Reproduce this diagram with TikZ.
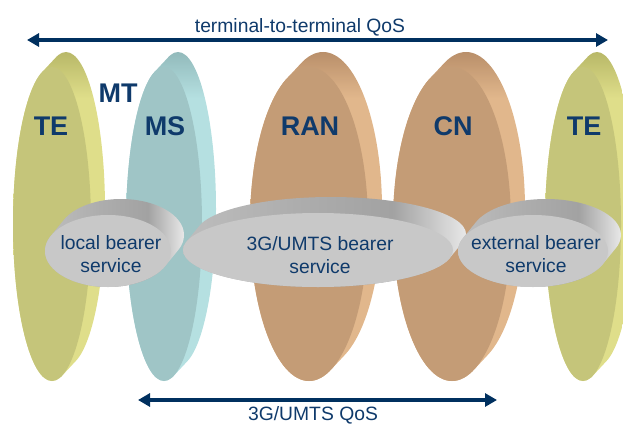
\documentclass[tikz,border=0pt]{standalone}
\usepackage{fontspec}
\setmainfont{Liberation Sans}
\usetikzlibrary{arrows.meta}

% face and rim colours of the domain discs
\definecolor{teFront}{HTML}{C5C57A}
\definecolor{teRim}{HTML}{DFDE8A}
\definecolor{teRimDk}{HTML}{B8B868}
\definecolor{msFront}{HTML}{9FC5C6}
\definecolor{msRim}{HTML}{B5E0E1}
\definecolor{msRimDk}{HTML}{92BABB}
\definecolor{cnFront}{HTML}{C49C76}
\definecolor{cnRim}{HTML}{E1B78C}
\definecolor{cnRimDk}{HTML}{B98F6A}
% bearer discs
\definecolor{bFront}{HTML}{C8C8C8}
\definecolor{bsA}{HTML}{BEBEBE}
\definecolor{bsB}{HTML}{ADADAD}
\definecolor{bsC}{HTML}{A2A2A2}
\definecolor{bsD}{HTML}{D2D2D2}
\definecolor{bsE}{HTML}{E8E8E8}
% text and arrows
\definecolor{navy}{HTML}{0F3A6B}
\definecolor{arrowblue}{HTML}{00305F}

% rim shadings: the fitted box spans 25bp..75bp
\pgfdeclareverticalshading{teShade}{100bp}{color(0bp)=(teRim); color(68bp)=(teRim); color(75bp)=(teRimDk); color(100bp)=(teRimDk)}
\pgfdeclareverticalshading{msShade}{100bp}{color(0bp)=(msRim); color(68bp)=(msRim); color(75bp)=(msRimDk); color(100bp)=(msRimDk)}
\pgfdeclareverticalshading{cnShade}{100bp}{color(0bp)=(cnRim); color(68bp)=(cnRim); color(75bp)=(cnRimDk); color(100bp)=(cnRimDk)}
\pgfdeclarehorizontalshading{bearerShade}{100bp}{color(0bp)=(bsA); color(25bp)=(bsA); color(45bp)=(bsB); color(62bp)=(bsC); color(71bp)=(bsD); color(75bp)=(bsE); color(100bp)=(bsE)}

% upright disc: centre x, x radius, face colour, rim shading
\newcommand\vdisk[4]{%
  \shade[shading=#4] \foreach \t in {0,0.05,...,1.01} {(#1+14*\t,224-15*\t) ellipse [x radius=#2, y radius=157]};
  \fill[#3] (#1,224) ellipse [x radius=#2, y radius=157];
}
% lying bearer disc: centre x, centre y, x radius, y radius
\newcommand\hdisk[4]{%
  \shade[shading=bearerShade] \foreach \t in {0,0.05,...,1.01} {(#1+13*\t,#2-16*\t) ellipse [x radius=#3, y radius=#4]};
  \fill[bFront] (#1,#2) ellipse [x radius=#3, y radius=#4];
}

\tikzset{
  domainlabel/.style={text=navy, font=\fontsize{27}{30}\selectfont\bfseries, anchor=base, inner sep=0pt},
  bearerlabel/.style={text=navy, font=\fontsize{19.3}{22.5}\selectfont, align=center, anchor=base, inner sep=0pt},
  qoslabel/.style={text=navy, font=\fontsize{19.3}{22}\selectfont, anchor=base, inner sep=0pt},
  qosarrow/.style={draw=arrowblue, line width=3.5pt, {Triangle[length=12pt,width=13pt]}-{Triangle[length=12pt,width=13pt]}}
}

\begin{document}
\begin{tikzpicture}[x=1pt,y=-1pt]
\useasboundingbox (0,0) rectangle (623,423);
\clip (0,0) rectangle (623,423);

% network domains
\vdisk{52}{39}{teFront}{teShade}
\vdisk{164}{38}{msFront}{msShade}
\vdisk{309}{59}{cnFront}{cnShade}
\vdisk{452}{59}{cnFront}{cnShade}
\vdisk{583}{38}{teFront}{teShade}

\node[domainlabel] (teL) at (51,135) {TE};
\node[domainlabel] (mt)  at (118,102) {MT};
\node[domainlabel] (ms)  at (165,135) {MS};
\node[domainlabel] (ran) at (310,135) {RAN};
\node[domainlabel] (cn)  at (453,135) {CN};
\node[domainlabel] (teR) at (584,135) {TE};

% bearer services
\hdisk{108}{251}{63}{36}
\hdisk{318}{250}{135}{37}
\hdisk{533}{251}{75}{36}

% base anchor sits on the last line
\node[bearerlabel] (lbs) at (111,272) {local bearer\\service};
\node[bearerlabel] (ubs) at (320,273) {3G/UMTS bearer\\service};
\node[bearerlabel] (ebs) at (536,272) {external bearer\\service};

% QoS spans
\node[qoslabel] (e2e) at (300,32) {terminal-to-terminal QoS};
\coordinate (e2eL) at (27,40);
\coordinate (e2eR) at (608,40);
\draw[qosarrow] (e2eL) -- (e2eR);

\node[qoslabel] (umq) at (313,420) {3G/UMTS QoS};
\coordinate (umqL) at (138,400);
\coordinate (umqR) at (497,400);
\draw[qosarrow] (umqL) -- (umqR);
\end{tikzpicture}
\end{document}
